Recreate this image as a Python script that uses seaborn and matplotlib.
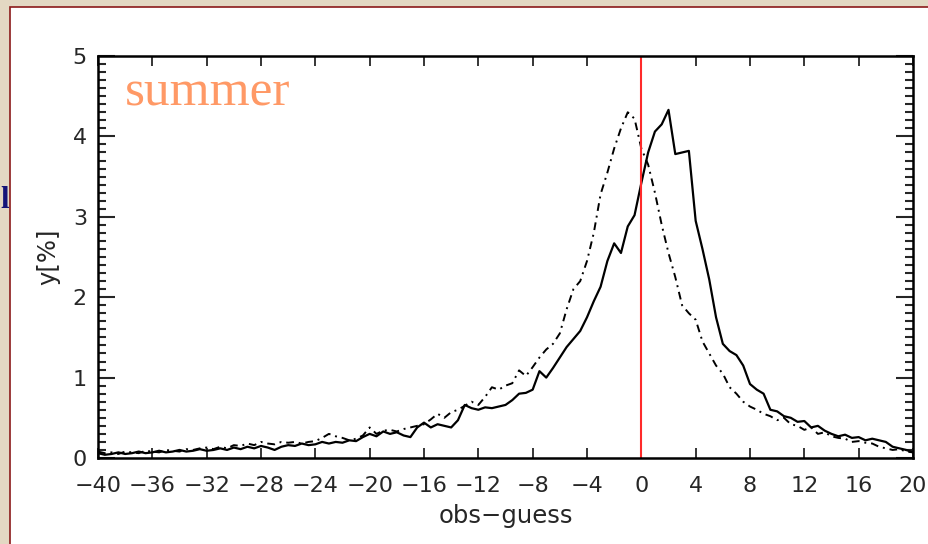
import numpy as np
import pandas as pd
import matplotlib
matplotlib.use("Agg")
import matplotlib.pyplot as plt
import seaborn as sns
from matplotlib.patches import Rectangle
from matplotlib.ticker import MultipleLocator

# histogram bins of obs-guess (0.5 wide), values in percent
bins = np.arange(-40, 20.01, 0.5)

solid_pct = [
    0.06, 0.04, 0.05, 0.07, 0.05, 0.06, 0.08, 0.06, 0.07, 0.09,
    0.07, 0.08, 0.10, 0.08, 0.09, 0.11, 0.09, 0.10, 0.12, 0.10,
    0.13, 0.11, 0.14, 0.12, 0.15, 0.13, 0.10, 0.14, 0.16, 0.15,
    0.18, 0.16, 0.17, 0.20, 0.18, 0.20, 0.19, 0.22, 0.21, 0.26,
    0.30, 0.27, 0.33, 0.30, 0.32, 0.28, 0.26, 0.38, 0.44, 0.38,
    0.42, 0.40, 0.38, 0.47, 0.66, 0.62, 0.60, 0.63, 0.62, 0.64,
    0.66, 0.72, 0.80, 0.81, 0.85, 1.08, 1.00, 1.12, 1.25, 1.38,
    1.48, 1.58, 1.75, 1.95, 2.13, 2.45, 2.67, 2.55, 2.88, 3.02,
    3.42, 3.80, 4.06, 4.15, 4.33, 3.78, 3.80, 3.82, 2.95, 2.60,
    2.22, 1.75, 1.42, 1.33, 1.28, 1.15, 0.92, 0.85, 0.80, 0.60,
    0.58, 0.52, 0.50, 0.45, 0.46, 0.38, 0.40, 0.34, 0.30, 0.27,
    0.29, 0.25, 0.26, 0.22, 0.24, 0.22, 0.20, 0.14, 0.12, 0.10,
    0.07,
]

dashdot_pct = [
    0.08, 0.06, 0.07, 0.05, 0.08, 0.07, 0.06, 0.09, 0.08, 0.07,
    0.10, 0.09, 0.08, 0.11, 0.10, 0.12, 0.13, 0.11, 0.14, 0.12,
    0.16, 0.15, 0.18, 0.16, 0.20, 0.18, 0.17, 0.20, 0.19, 0.20,
    0.18, 0.20, 0.21, 0.25, 0.30, 0.27, 0.25, 0.22, 0.24, 0.28,
    0.38, 0.30, 0.34, 0.35, 0.33, 0.36, 0.38, 0.40, 0.42, 0.48,
    0.55, 0.50, 0.57, 0.60, 0.65, 0.70, 0.66, 0.76, 0.88, 0.85,
    0.90, 0.93, 1.09, 1.02, 1.13, 1.25, 1.35, 1.42, 1.55, 1.85,
    2.10, 2.20, 2.45, 2.80, 3.28, 3.55, 3.85, 4.10, 4.30, 4.22,
    3.85, 3.65, 3.30, 2.90, 2.55, 2.25, 1.90, 1.80, 1.72, 1.45,
    1.30, 1.15, 1.05, 0.88, 0.80, 0.70, 0.64, 0.60, 0.55, 0.52,
    0.47, 0.50, 0.42, 0.40, 0.35, 0.38, 0.30, 0.32, 0.27, 0.25,
    0.24, 0.20, 0.21, 0.19, 0.18, 0.14, 0.12, 0.10, 0.11, 0.08,
    0.07,
]

xticks = list(range(-40, 21, 4))

df = pd.DataFrame({"x": bins, "solid": solid_pct, "dashdot": dashdot_pct})

sns.set_style("ticks")
plt.rcParams["font.family"] = ["DejaVu Sans"]

fig = plt.figure(figsize=(9.29, 5.44), dpi=100)
fig.patch.set_facecolor("#E3D8C3")

# slide panel
fig.text(9 / 929, 1 - 200 / 544, "l", ha="right", va="center", color="#141478",
         fontsize=22, fontweight="bold", family="Liberation Serif")
panel = Rectangle((10 / 929, -0.01), 1.0, 1 - 7 / 544 + 0.01, transform=fig.transFigure,
                  facecolor="white", edgecolor="#8B1A1A", linewidth=1.2, zorder=1)
fig.patches.append(panel)

ax = fig.add_axes([98 / 929, 1 - 458 / 544, 815 / 929, 402 / 544])
ax.set_zorder(2)
ax.set_facecolor("white")

sns.lineplot(data=df, x="x", y="solid", color="black", linewidth=1.6, ax=ax)
sns.lineplot(data=df, x="x", y="dashdot", color="black", linewidth=1.4,
             linestyle=(0, (4, 2.5, 1, 2.5)), ax=ax)
ax.axvline(0, color="#FF2A2A", linewidth=1.5)

ax.set_xlim(-40, 20)
ax.set_ylim(0, 5)
ax.set_xticks(xticks)
ax.yaxis.set_major_locator(MultipleLocator(1))
ax.yaxis.set_minor_locator(MultipleLocator(0.1))

for side in ["top", "bottom", "left", "right"]:
    ax.spines[side].set_visible(True)
    ax.spines[side].set_linewidth(1.8)
    ax.spines[side].set_color("black")

ax.tick_params(axis="x", which="major", direction="in", length=7, width=1.3,
               top=True, bottom=True, labelsize=16, pad=13)
ax.tick_params(axis="y", which="major", direction="in", length=12, width=1.5,
               left=True, right=True, labelsize=16, pad=8)
ax.tick_params(axis="y", which="minor", direction="in", length=6, width=1.5,
               left=True, right=True)

ax.set_xlabel("obs\u2212guess", fontsize=17.5, labelpad=6)
ax.set_ylabel("y[%]", fontsize=17.5, labelpad=9)

ax.text(0.033, 0.878, "summer", transform=ax.transAxes, color="#FF9966",
        fontsize=37, family="Liberation Serif", va="baseline", ha="left")

plt.savefig("out.png", dpi=100, facecolor=fig.get_facecolor())
plt.close()
